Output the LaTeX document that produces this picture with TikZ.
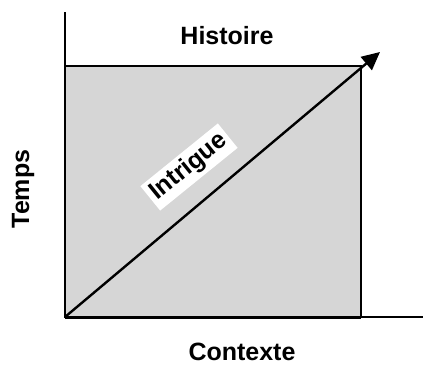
\documentclass[tikz,border=0pt]{standalone}
\usepackage{fontspec}
\setmainfont{Liberation Sans}
\usetikzlibrary{arrows.meta}
\tikzset{
    lbl/.style={font=\fontsize{25}{29}\selectfont\bfseries, inner sep=1pt},
    axe/.style={line width=1.3pt},
}
\begin{document}
\begin{tikzpicture}[x=1pt, y=1pt]
            \useasboundingbox (0,0) rectangle (423,365);
            \coordinate (O) at (65,48);
            \coordinate (T) at (65,353);
            \coordinate (C) at (423,48);
            \coordinate (R) at (361,299);
            \coordinate (F) at (380,313);
            \fill[gray!32] (O) rectangle (R);
            \draw[line width=1.6pt] (O) rectangle (R);
            \draw[line width=3pt] (O) -- (O -| R);
            \draw[axe] (O) -- (T);
            \draw[axe] (O) -- (C);
            \draw[line width=2.4pt, -{Triangle[length=18pt, width=17pt]}] (O) -- (F);
            \node[lbl] (histoire) at (227,329) {Histoire};
            \node[lbl] (contexte) at (242,13) {Contexte};
            \node[lbl, rotate=90] (temps) at (23,176) {Temps};
            \node[lbl, rotate=39, fill=white, inner sep=4pt] (intrigue) at (189,198) {Intrigue};
        \end{tikzpicture}
\end{document}
